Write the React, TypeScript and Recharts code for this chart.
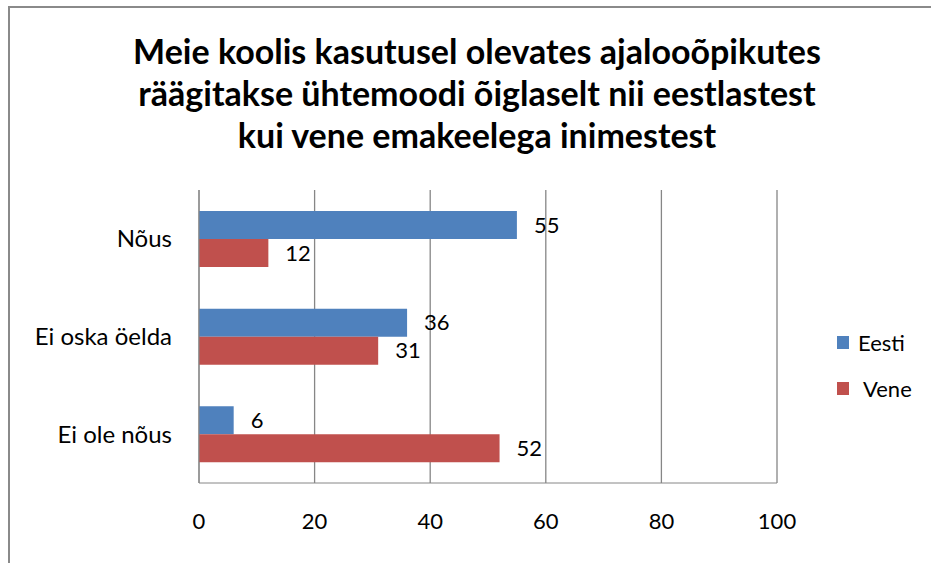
import {
  BarChart,
  Bar,
  XAxis,
  YAxis,
  CartesianGrid,
  LabelList,
} from "recharts";

const categories = ["Nõus", "Ei oska öelda", "Ei ole nõus"];
const eesti = [55, 36, 6];
const vene = [12, 31, 52];
const xTicks = [0, 20, 40, 60, 80, 100];
const seriesNames = ["Eesti", "Vene"];
const titleLines = [
  "Meie koolis kasutusel olevates ajalooõpikutes",
  "räägitakse ühtemoodi õiglaselt nii eestlastest",
  "kui vene emakeelega inimestest",
];

const BLUE = "#4F81BD";
const RED = "#C0504D";
const GRID = "#868686";
const FONT = "Lato, 'Open Sans', sans-serif";
const FS = 22;

const data = categories.map((c, i) => ({ name: c, Eesti: eesti[i], Vene: vene[i] }));

function LegendBox() {
  const colors = [BLUE, RED];
  return (
    <div
      style={{
        position: "absolute",
        left: 837,
        top: 319,
        fontFamily: FONT,
        fontSize: FS,
        color: "#000",
      }}
    >
      {seriesNames.map((name, i) => (
        <div
          key={name}
          style={{ display: "flex", alignItems: "center", height: 46, whiteSpace: "pre" }}
        >
          <span
            style={{
              width: 12,
              height: 13,
              background: colors[i],
              display: "inline-block",
              marginRight: i === 0 ? 9 : 14,
            }}
          />
          {name}
        </div>
      ))}
    </div>
  );
}

export default function App() {
  return (
    <div
      style={{
        position: "absolute",
        left: 0,
        top: 0,
        width: 931,
        height: 563,
        background: "#fff",
        overflow: "hidden",
      }}
    >
      <div
        style={{
          position: "absolute",
          left: 8,
          top: 6,
          width: 931,
          height: 600,
          borderTop: "2px solid #8a8a8a",
          borderLeft: "2px solid #8a8a8a",
        }}
      />
      <div
        style={{
          position: "absolute",
          left: 0,
          top: 30,
          width: 954,
          textAlign: "center",
          fontFamily: FONT,
          fontWeight: 700,
          fontSize: 34,
          lineHeight: "42px",
          color: "#000",
        }}
      >
        {titleLines.map((l) => (
          <div key={l}>{l}</div>
        ))}
      </div>
      <div style={{ position: "absolute", left: 0, top: 0 }}>
        <BarChart
          width={931}
          height={563}
          data={data}
          layout="vertical"
          margin={{ top: 190, right: 154, left: 0, bottom: 50 }}
          barSize={28}
          barGap={0}
        >
          <CartesianGrid horizontal={false} stroke={GRID} strokeWidth={1.3} />
          <XAxis
            type="number"
            domain={[0, 100]}
            ticks={xTicks}
            axisLine={{ stroke: GRID }}
            tickLine={false}
            tickSize={0}
            tickMargin={30}
            tick={{ fill: "#000", fontSize: FS, fontFamily: FONT }}
            interval={0}
          />
          <YAxis
            type="category"
            dataKey="name"
            width={199}
            axisLine={{ stroke: GRID }}
            tickLine={false}
            tickSize={0}
            tickMargin={27}
            tick={{ fill: "#000", fontSize: 24, fontFamily: FONT }}
          />
          <Bar dataKey="Eesti" fill={BLUE} isAnimationActive={false}>
            <LabelList
              dataKey="Eesti"
              position="right"
              offset={17}
              fill="#000"
              fontSize={FS}
              fontFamily={FONT}
            />
          </Bar>
          <Bar dataKey="Vene" fill={RED} isAnimationActive={false}>
            <LabelList
              dataKey="Vene"
              position="right"
              offset={17}
              fill="#000"
              fontSize={FS}
              fontFamily={FONT}
            />
          </Bar>
        </BarChart>
      </div>
      <LegendBox />
    </div>
  );
}
